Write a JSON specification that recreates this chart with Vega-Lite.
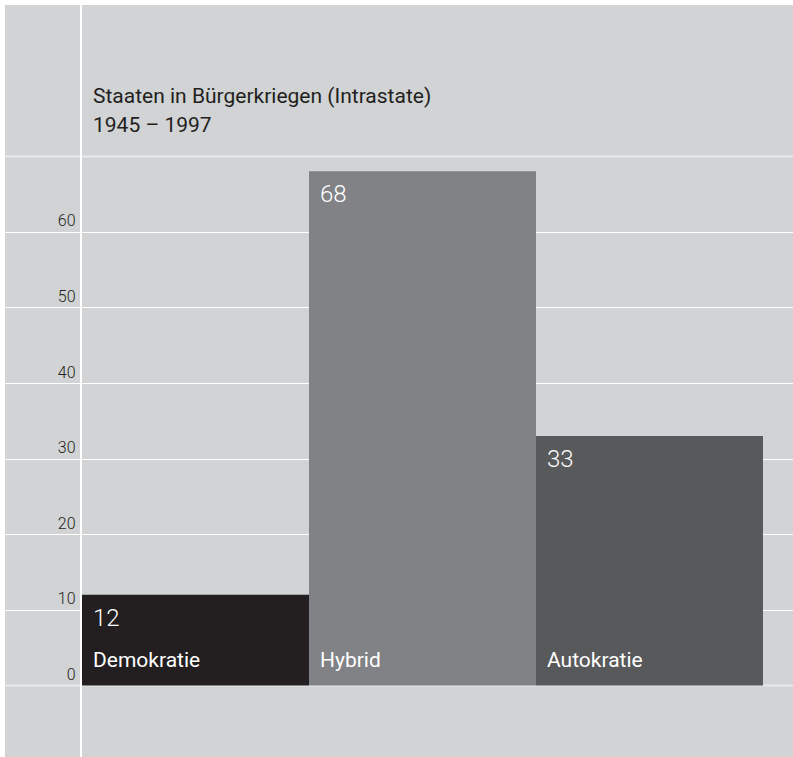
{
  "$schema": "https://vega.github.io/schema/vega-lite/v6.json",
  "width": 788,
  "height": 752,
  "autosize": {"type": "none"},
  "padding": {"left": 5, "top": 5, "right": 0, "bottom": 0},
  "background": "white",
  "config": {"view": {"fill": "#d1d3d4", "stroke": null}, "font": "Roboto"},
  "title": {
    "text": ["Staaten in Bürgerkriegen (Intrastate)", "1945 – 1997"],
    "anchor": "start",
    "frame": "group",
    "orient": "top",
    "baseline": "alphabetic",
    "offset": -149,
    "dx": 88,
    "fontSize": 21,
    "fontWeight": 400,
    "lineHeight": 29,
    "color": "#231f20"
  },
  "data": {
    "values": [
      {"cat": "Demokratie", "value": 12},
      {"cat": "Hybrid", "value": 68},
      {"cat": "Autokratie", "value": 33}
    ]
  },
  "encoding": {
    "x": {
      "field": "cat",
      "type": "nominal",
      "sort": null,
      "scale": {"paddingInner": 0, "paddingOuter": 0.2357, "align": 0.7196},
      "axis": null
    }
  },
  "layer": [
    {
      "mark": {"type": "bar"},
      "encoding": {
        "y": {
          "field": "value",
          "type": "quantitative",
          "scale": {"domain": [-9.46, 90], "nice": false, "zero": false},
          "axis": {
            "orient": "left",
            "offset": -77,
            "domain": false,
            "ticks": false,
            "values": [0, 10, 20, 30, 40, 50, 60, 70],
            "labelExpr": "datum.value == 70 ? '' : datum.label",
            "labelPadding": 7,
            "labelFontSize": 16,
            "labelFontWeight": 300,
            "labelColor": "#231f20",
            "labelBaseline": "alphabetic",
            "labelOffset": -6,
            "grid": true,
            "gridColor": {"condition": {"test": "datum.value === 0 || datum.value === 70", "value": "#e9eaeb"}, "value": "#ffffff"},
            "gridWidth": {"condition": {"test": "datum.value === 0 || datum.value === 70", "value": 2}, "value": 1},
            "gridOpacity": 1,
            "title": null
          }
        },
        "y2": {"datum": 0},
        "color": {
          "field": "cat",
          "type": "nominal",
          "scale": {"domain": ["Demokratie", "Hybrid", "Autokratie"], "range": ["#231f20", "#808285", "#58595b"]},
          "legend": null
        }
      }
    },
    {
      "mark": {"type": "rule", "color": "#ffffff", "strokeWidth": 2, "xOffset": -1},
      "encoding": {
        "x": {"datum": "Demokratie", "bandPosition": 0}
      }
    },
    {
      "mark": {"type": "text", "align": "left", "baseline": "alphabetic", "dx": 11, "dy": 31, "color": "#ffffff", "fontSize": 24, "fontWeight": 300},
      "encoding": {
        "x": {"field": "cat", "type": "nominal", "bandPosition": 0},
        "y": {"field": "value", "type": "quantitative"},
        "text": {"field": "value", "type": "quantitative"}
      }
    },
    {
      "mark": {"type": "text", "align": "left", "baseline": "alphabetic", "dx": 11, "dy": -18, "color": "#ffffff", "fontSize": 21},
      "encoding": {
        "x": {"field": "cat", "type": "nominal", "bandPosition": 0},
        "y": {"datum": 0},
        "text": {"field": "cat", "type": "nominal"}
      }
    }
  ]
}
